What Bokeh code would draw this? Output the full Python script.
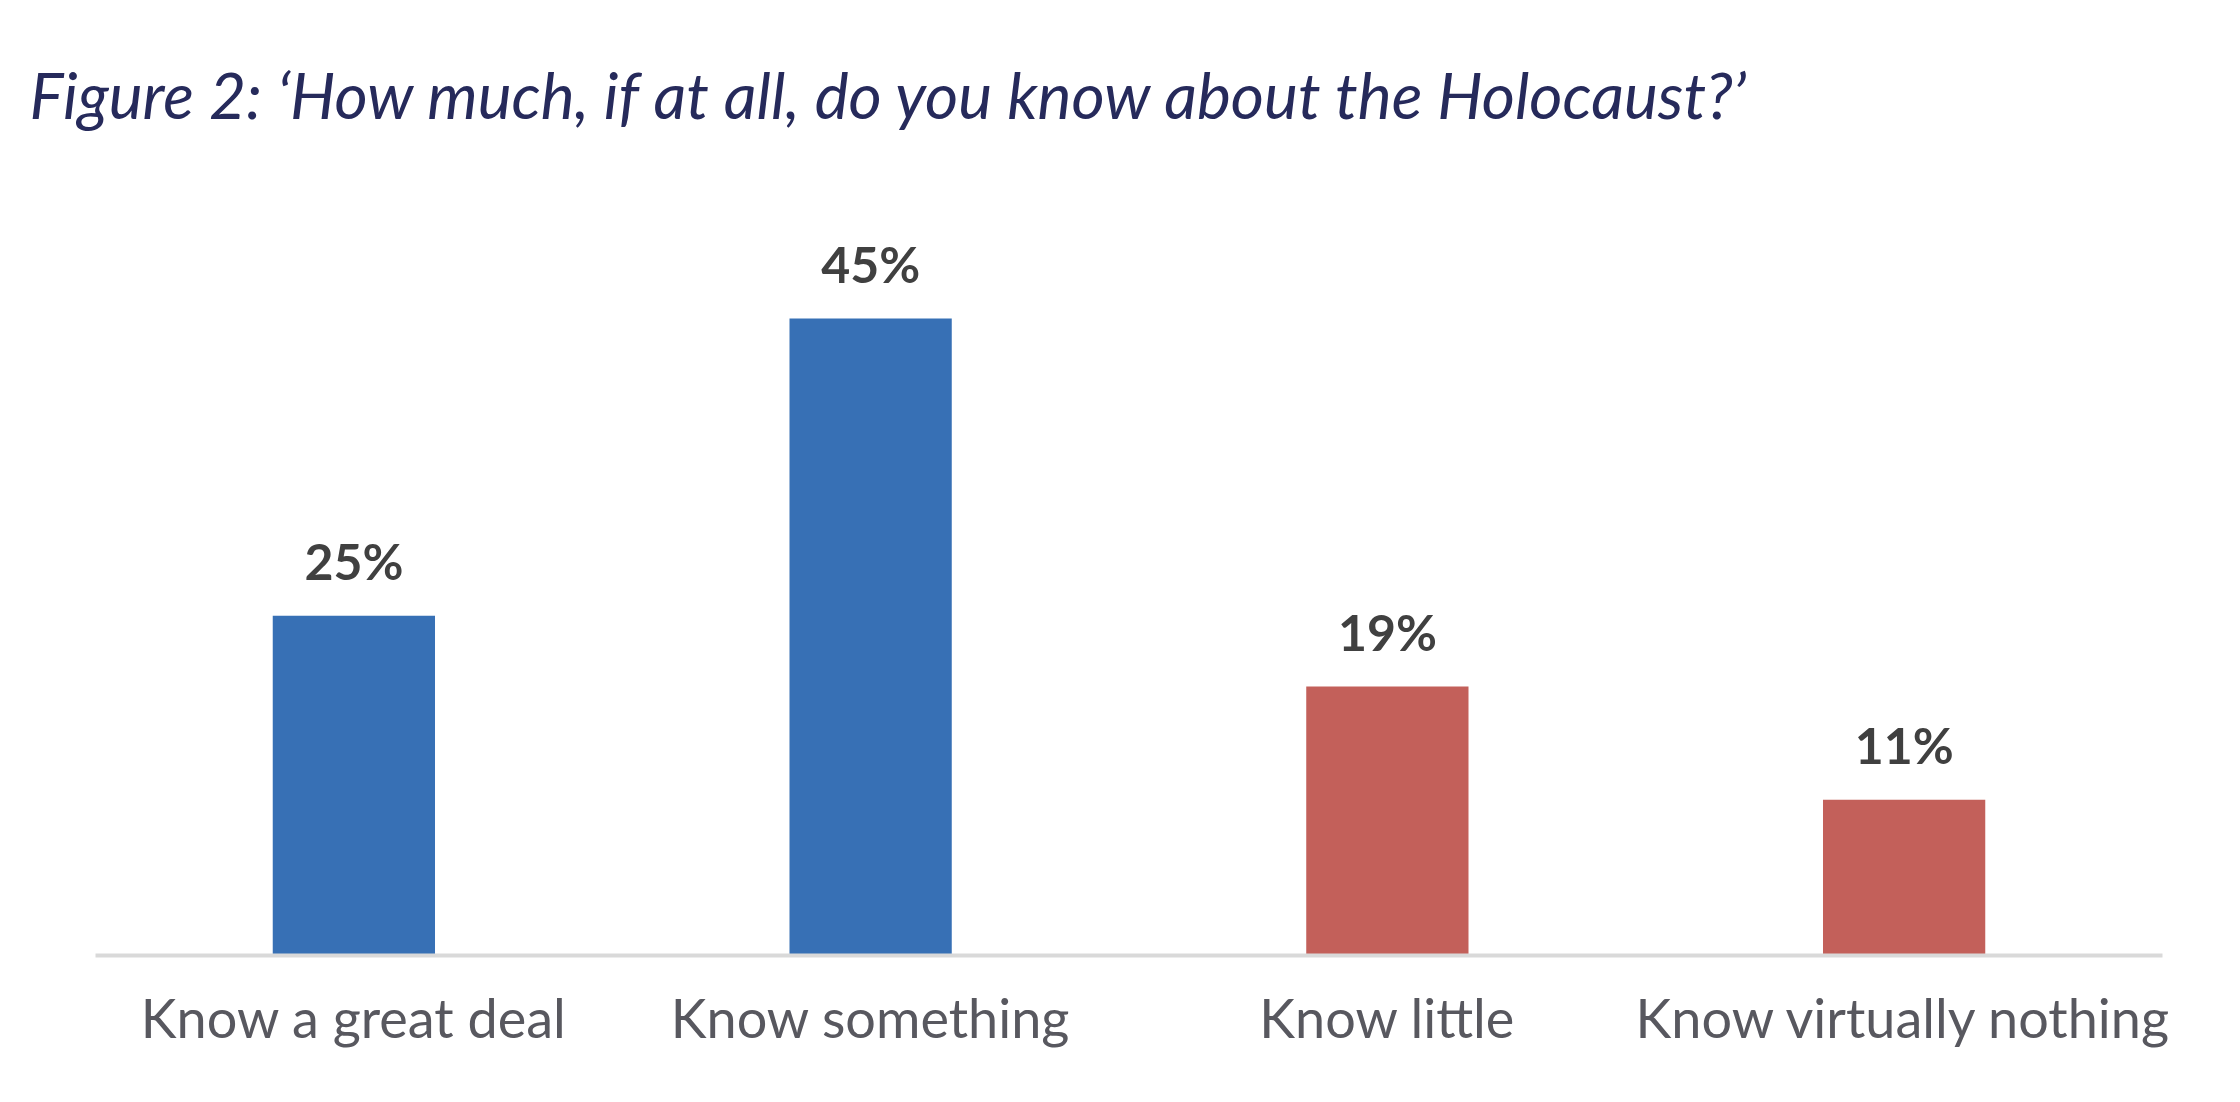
from bokeh.plotting import figure
from bokeh.models import ColumnDataSource, FactorRange, Range1d, Title
from bokeh.core.properties import value
from bokeh.embed import file_html
from bokeh.resources import INLINE

# Data
categories = ["Know a great deal", "Know something", "Know little", "Know virtually nothing"]
values = [24, 45, 19, 11]
value_labels = ["25%", "45%", "19%", "11%"]
bar_colors = ["#3770b5", "#3770b5", "#c3605a", "#c3605a"]

title_text = "Figure 2: \u2018How much, if at all, do you know about the Holocaust?\u2019"

W, H = 2224, 1086
TOP, BOTTOM = 140, 131
PX_PER_UNIT = 845 / 59.7
src = ColumnDataSource(dict(cat=categories, val=values, lab=value_labels, col=bar_colors))

p = figure(width=W, height=H, output_backend="svg", toolbar_location=None,
           x_range=FactorRange(*categories, range_padding=0),
           y_range=Range1d(0, (H - TOP - BOTTOM) / PX_PER_UNIT),
           min_border_left=95, min_border_right=62, min_border_top=TOP, min_border_bottom=BOTTOM)

p.vbar(x="cat", top="val", width=0.314, fill_color="col", line_color=None, source=src)
p.text(x="cat", y="val", text="lab", source=src, text_align="center", text_baseline="alphabetic",
       y_offset=-55, text_font=value("Lato"), text_font_style="bold", text_font_size="50px",
       text_color="#404040")

main_title = Title(text=title_text, text_font="Lato", text_font_style="italic",
                   text_font_size="64px", text_color="#262a5b", align="left", offset=-66,
                   standoff=16)
spacer = Title(text=" ", text_font="Lato", text_font_size="26px", standoff=10)
p.add_layout(main_title, "above")
p.add_layout(spacer, "above")

p.yaxis.visible = False
p.xgrid.grid_line_color = None
p.ygrid.grid_line_color = None
p.outline_line_color = None
p.xaxis.axis_line_color = "#d9d9d9"
p.xaxis.axis_line_width = 4
p.xaxis.major_tick_line_color = None
p.xaxis.minor_tick_line_color = None
p.xaxis.major_label_text_font = "Lato"
p.xaxis.major_label_text_font_size = "54px"
p.xaxis.major_label_text_color = "#58585f"
p.xaxis.major_label_standoff = 23

open("out.html", "w").write(file_html(p, INLINE))
